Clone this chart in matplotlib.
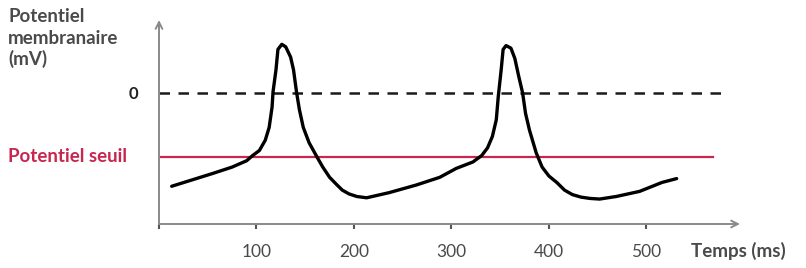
import numpy as np
import matplotlib
matplotlib.use("Agg")
import matplotlib.pyplot as plt

# membrane potential trace (ms, mV)
time_ms = [13, 34, 55, 75, 90, 96, 103, 109, 113, 116, 117, 120, 122, 126, 130, 135,
           138, 141, 144, 148, 154, 162, 168, 175, 182, 188, 195, 203, 213, 236, 264,
           288, 305, 322, 331, 337, 342, 346, 348, 351, 353, 356, 361, 365, 369, 373,
           376, 380, 387, 393, 400, 408, 416, 424, 433, 442, 452, 469, 493, 516, 531]
potential_mv = [-73, -68, -63, -58, -53, -49, -45, -37, -27, -11, 1, 18, 34, 38, 36, 28,
                18, 1, -13, -27, -39, -50, -58, -66, -71.5, -76, -79, -81, -82, -78, -72,
                -66, -59, -54, -49, -43, -34, -21, -3, 18, 34, 37, 35, 27, 13, 0,
                -16, -29, -47, -58, -65, -70, -76, -79.5, -81.5, -82.5, -83, -81, -77, -70, -67]

threshold_mv = -50
zero_mv = 0
x_ticks = [0, 100, 200, 300, 400, 500]

red = "#c9264f"
axis_grey = "#8a8a8a"
text_grey = "#4a4a4a"
plt.rcParams["font.family"] = ["Lato", "DejaVu Sans"]

fig = plt.figure(figsize=(8.06, 2.68), dpi=100)
ax = fig.add_axes([159 / 806, 44 / 268, 581 / 806, 204 / 268])
ax.set_xlim(0, 596)
ax.set_ylim(-102.5, 57)

# reference lines
ax.plot([0, 577], [zero_mv, zero_mv], color="#1a1a1a", lw=1.8,
        linestyle=(0, (4.2, 3.4)))
ax.plot([0, 568], [threshold_mv, threshold_mv], color=red, lw=1.6)

# trace
ax.plot(time_ms, potential_mv, color="black", lw=2.4,
        solid_joinstyle="round", solid_capstyle="round")

# axes as arrows
for side in ax.spines.values():
    side.set_visible(False)
arrow = dict(arrowstyle="->", color=axis_grey, lw=1.4, mutation_scale=12,
             shrinkA=0, shrinkB=0)
ax.annotate("", xy=(0, 1), xytext=(0, 0), xycoords="axes fraction",
            textcoords="axes fraction", arrowprops=arrow)
ax.annotate("", xy=(1, 0), xytext=(0, 0), xycoords="axes fraction",
            textcoords="axes fraction", arrowprops=arrow)

ax.set_xticks(x_ticks)
ax.set_xticklabels([str(t) if t else "" for t in x_ticks])
ax.tick_params(axis="x", direction="out", length=3.5, width=1.5, color="#555555",
               pad=11, labelsize=12.5, labelcolor=text_grey)
ax.set_yticks([zero_mv])
ax.set_yticklabels(["0"])
ax.tick_params(axis="y", length=0, pad=15, labelsize=12, labelcolor="#222222")
for lab in ax.get_yticklabels():
    lab.set_fontweight("bold")

# labels
for line, base in zip(["Potentiel", "membranaire", "(mV)"], [22, 44, 65]):
    fig.text(8 / 806, 1 - base / 268, line, ha="left", va="baseline",
             fontsize=13.5, color=text_grey, fontweight="bold")
fig.text(8 / 806, 1 - 157 / 268, "Potentiel seuil", ha="left", va="center",
         fontsize=13.5, color=red, fontweight="bold")
fig.text(691 / 806, 1 - 251 / 268, "Temps (ms)", ha="left", va="center",
         fontsize=13.5, color=text_grey, fontweight="bold")

fig.savefig("out.png", dpi=100)
